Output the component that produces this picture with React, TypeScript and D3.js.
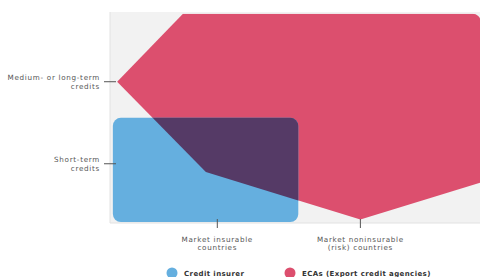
import { useRef, useEffect } from "react";
import * as d3 from "d3";

// axis categories (index positions on each axis)
const xCategories = [
  { pos: 1, lines: ["Market insurable", "countries"] },
  { pos: 2, lines: ["Market noninsurable", "(risk) countries"] },
];
const yCategories = [
  { pos: 1, lines: ["Short-term", "credits"] },
  { pos: 2, lines: ["Medium- or long-term", "credits"] },
];

// shapes in axis units
const ecaShape: [number, number][] = [
  [0.76, 2.83],
  [2.84, 2.83],
  [2.84, 0.77],
  [2.0, 0.32],
  [0.92, 0.9],
  [0.3, 2.0],
];
const insurerBox = { x0: 0.27, x1: 1.566, y0: 0.29, y1: 1.56 };

const legendItems = [
  { label: "Credit insurer", color: "#65afdf" },
  { label: "ECAs (Export credit agencies)", color: "#dc4f6e" },
];

const W = 480;
const H = 277;

export default function App() {
  const ref = useRef<SVGSVGElement | null>(null);

  useEffect(() => {
    if (!ref.current) return;
    const svg = d3.select(ref.current);
    svg.selectAll("*").remove();

    const x = d3.scaleLinear().domain([0.25, 2.85]).range([110, 482]);
    const y = d3.scaleLinear().domain([0.29, 2.85]).range([222, 12]);
    const font = "'DejaVu Sans', sans-serif";
    const fs = 7.2;

    const defs = svg.append("defs");
    defs
      .append("clipPath")
      .attr("id", "eca-clip")
      .append("rect")
      .attr("x", 100)
      .attr("y", y(2.83))
      .attr("width", x(2.84) - 100)
      .attr("height", 240)
      .attr("rx", 8);
    defs
      .append("clipPath")
      .attr("id", "box-clip")
      .append("rect")
      .attr("x", x(insurerBox.x0))
      .attr("y", y(insurerBox.y1))
      .attr("width", x(insurerBox.x1) - x(insurerBox.x0))
      .attr("height", y(insurerBox.y0) - y(insurerBox.y1))
      .attr("rx", 8);

    // plot background
    svg
      .append("rect")
      .attr("x", x(0.25))
      .attr("y", y(2.85))
      .attr("width", W - x(0.25))
      .attr("height", y(0.29) - y(2.85) + 1)
      .attr("fill", "#f2f2f2");
    svg
      .append("path")
      .attr("d", `M${x(0.25)},${y(2.85)}V${y(0.29) + 1}H${W}`)
      .attr("fill", "none")
      .attr("stroke", "#e2e2e2")
      .attr("stroke-width", 1);

    const line = d3.line<[number, number]>()
      .x((d) => x(d[0]))
      .y((d) => y(d[1]))
      .curve(d3.curveLinearClosed);

    // ECA shape
    svg
      .append("path")
      .attr("d", line(ecaShape))
      .attr("fill", legendItems[1].color)
      .attr("clip-path", "url(#eca-clip)");

    // credit insurer box
    svg
      .append("rect")
      .attr("x", x(insurerBox.x0))
      .attr("y", y(insurerBox.y1))
      .attr("width", x(insurerBox.x1) - x(insurerBox.x0))
      .attr("height", y(insurerBox.y0) - y(insurerBox.y1))
      .attr("rx", 8)
      .attr("fill", legendItems[0].color);

    // overlap
    svg
      .append("g")
      .attr("clip-path", "url(#box-clip)")
      .append("path")
      .attr("d", line(ecaShape))
      .attr("fill", "#553a66")
      .attr("clip-path", "url(#eca-clip)");

    // y ticks + labels
    yCategories.forEach((c) => {
      const yy = y(c.pos);
      svg
        .append("line")
        .attr("x1", 104)
        .attr("x2", 116)
        .attr("y1", yy)
        .attr("y2", yy)
        .attr("stroke", "#555")
        .attr("stroke-width", 1);
      const t = svg
        .append("text")
        .attr("text-anchor", "end")
        .attr("font-family", font)
        .attr("font-size", fs)
        .attr("letter-spacing", 0.7)
        .attr("fill", "#555");
      c.lines.forEach((l, i) => {
        t.append("tspan")
          .attr("x", 100)
          .attr("y", yy - 1.5 + i * 8.5)
          .text(l);
      });
    });

    // x ticks + labels
    xCategories.forEach((c) => {
      const xx = x(c.pos);
      svg
        .append("line")
        .attr("x1", xx)
        .attr("x2", xx)
        .attr("y1", y(0.29) - 3)
        .attr("y2", y(0.29) + 6)
        .attr("stroke", "#555")
        .attr("stroke-width", 1);
      const t = svg
        .append("text")
        .attr("text-anchor", "middle")
        .attr("font-family", font)
        .attr("font-size", fs)
        .attr("letter-spacing", 0.7)
        .attr("fill", "#555");
      c.lines.forEach((l, i) => {
        t.append("tspan")
          .attr("x", xx)
          .attr("y", 241.5 + i * 8.5)
          .text(l);
      });
    });

    // legend
    const legendX = [172, 290];
    legendItems.forEach((item, i) => {
      const g = svg.append("g").attr("transform", `translate(${legendX[i]},273)`);
      g.append("circle").attr("r", 5.5).attr("fill", item.color);
      g.append("text")
        .attr("x", 12)
        .attr("y", 2.6)
        .attr("font-family", font)
        .attr("font-size", 7)
        .attr("font-weight", 700)
        .attr("letter-spacing", 0.4)
        .attr("fill", "#333")
        .text(item.label);
    });
  }, []);

  return (
    <svg
      ref={ref}
      width={W}
      height={H}
      style={{ position: "absolute", left: 0, top: 0, background: "#fff" }}
    />
  );
}
